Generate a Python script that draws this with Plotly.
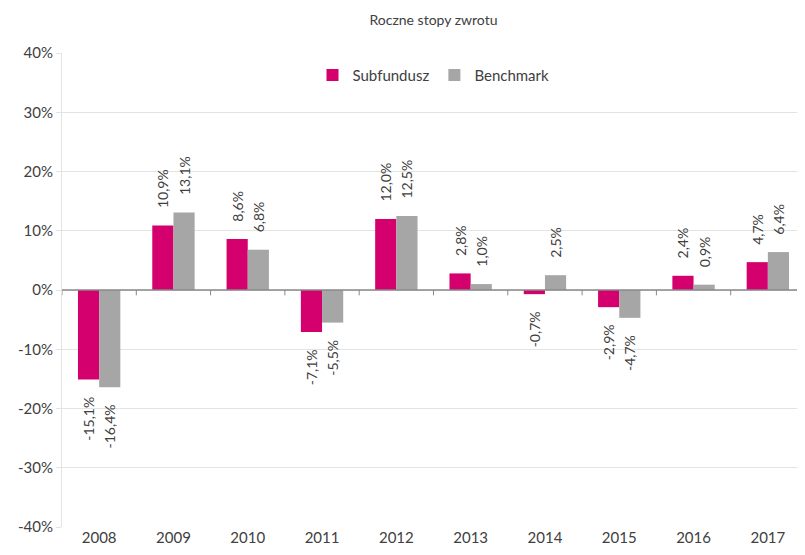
import plotly.graph_objects as go

years = ["2008", "2009", "2010", "2011", "2012", "2013", "2014", "2015", "2016", "2017"]
subfundusz = [-15.1, 10.9, 8.6, -7.1, 12.0, 2.8, -0.7, -2.9, 2.4, 4.7]
benchmark = [-16.4, 13.1, 6.8, -5.5, 12.5, 1.0, 2.5, -4.7, 0.9, 6.4]
y_ticks = [-40, -30, -20, -10, 0, 10, 20, 30, 40]
y_tick_labels = [f"{v}%" for v in y_ticks]

PAD = "\u00a0" * 4


def fmt(v):
    s = f"{v:.1f}%".replace(".", ",")
    # extra gap between bar end and its rotated label
    return PAD + s if v >= 0 else s + PAD


FONT = "Lato, 'Open Sans', sans-serif"
TXT = "#404040"
fig = go.Figure()
for name, vals, col in [("Subfundusz", subfundusz, "#D4006E"), ("Benchmark", benchmark, "#A6A6A6")]:
    fig.add_trace(go.Bar(
        x=years, y=vals, name=name, marker_color=col, marker_line_width=0,
        text=[fmt(v) for v in vals], textposition="outside", textangle=-90,
        constraintext="none",
        textfont=dict(size=14, color=TXT, family=FONT), cliponaxis=False,
    ))

shapes = [dict(type="line", xref="x", yref="y", x0=i - 0.5, x1=i - 0.5, y0=0, y1=-0.9,
               line=dict(color="#898989", width=1)) for i in range(len(years) + 1)]
shapes.append(dict(type="line", xref="paper", yref="y", x0=0, x1=1, y0=0, y1=0,
                   line=dict(color="#898989", width=1.5)))

# page body has an 8px default margin; figure is sized so the plot lands where the reference has it
fig.update_layout(
    width=797, height=547,
    margin=dict(l=54, r=0, t=45, b=28, autoexpand=False),
    paper_bgcolor="white", plot_bgcolor="white",
    font=dict(family=FONT, color=TXT, size=14),
    title=dict(text="Roczne stopy zwrotu", xref="paper", x=0.5, xanchor="center",
               yref="container", y=0.978, yanchor="middle",
               font=dict(size=14, color=TXT, family=FONT)),
    barmode="group", bargap=0.43, bargroupgap=0,
    legend=dict(orientation="h", x=0.5, xanchor="center", y=0.953, yanchor="middle",
                font=dict(size=15, color=TXT), itemwidth=30, traceorder="normal"),
    shapes=shapes,
    xaxis=dict(showgrid=False, showline=False, ticks="", tickfont=dict(size=15, color=TXT),
               range=[-0.5, 9.5], automargin=False),
    yaxis=dict(range=[-40, 40], tickvals=y_ticks, ticktext=y_tick_labels,
               showgrid=True, gridcolor="#E3E3E3", gridwidth=1, zeroline=False,
               showline=True, linecolor="#E3E3E3", ticks="outside", ticklen=5, tickcolor="#E3E3E3",
               tickfont=dict(size=15, color=TXT), automargin=False),
)
fig.write_html("out.html")
